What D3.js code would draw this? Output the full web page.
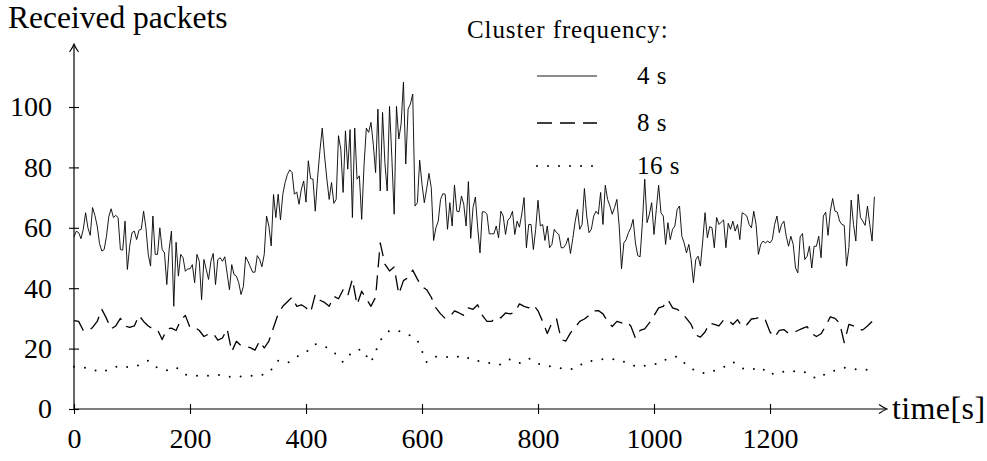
<!DOCTYPE html>
<html lang="en">
<head>
<meta charset="utf-8">
<title>Received packets</title>
<script src="https://cdn.jsdelivr.net/npm/d3@7"></script>
<style>
  body { margin: 0; background: #fff; }
  svg text { font-family: "Liberation Serif", "DejaVu Serif", serif; fill: #000; }
</style>
</head>
<body>
<div id="chart"></div>
<script>
// sampling interval of each series (s) and legend labels
var steps = [4, 8, 16];
var seriesNames = ["4 s", "8 s", "16 s"];
var xTicks = [0, 200, 400, 600, 800, 1000, 1200];
var yTicks = [0, 20, 40, 60, 80, 100];

// received packets, cluster frequency 4 s
var packets4 = [57,
  58.9,58.4,56.4,59.5,65,60,57.5,66.7,64.1,60.6,54.8,52.3,52.8,57.2,63.7,66.3,63.4,64.1,63.4,52.8,
  52.6,62.2,46.2,53.9,58.4,58.9,56.1,59.2,59.5,65.5,60,51.2,47.3,63.9,51.2,51.2,60,52.8,51.7,41.2,
  52.8,58.9,34,
  55.2,44,51.2,50.1,45.6,46.4,46.4,47.8,41.8,51.2,48.9,36.2,49.5,46.2,42.9,48.9,51.5,41.2,49.5,50.1,
  48.9,50.4,44.9,39.5,47.8,44.5,44,41.8,37.9,40.6,50.4,48.9,47.1,45.3,45.3,50.8,49.5,47.1,51.2,63.9,
  60.6,54,71,
  63.4,71.1,62.6,71.1,75,77.7,79.2,78.3,71.1,71.9,67.8,72.8,75.5,68.5,82.2,76.3,76.1,65.5,76.6,85.5,
  93,83.8,76.1,69.4,75,68.1,69.4,90.5,86,71.7,92.1,79.4,92.5,63.4,93,76.1,77.2,62.8,80.5,93,
  91.6,94.9,87.7,78.3,99.3,72.2,98.2,81.6,72.2,100.2,83.3,64.5,100.2,89.4,94.4,108.2,81.1,99.3,101,104.3,
  67.2,68.3,82.4,74.4,68.3,72.8,78,73.3,55.8,60,62.2,69.4,71.3,71.1,59.5,68.3,60.6,74.2,65.5,65.3,
  70.5,67.8,60.6,75.3,56.5,66.7,70.2,
  60,51.7,65.3,65.3,64.5,58,58,58,60.6,56.7,65.5,63.9,57.8,62.5,63.4,65.5,57.8,62.2,60.2,64.5,
  70,53.4,61.1,61.1,52.8,59.5,69.1,60.6,61.1,55.8,60.6,53.4,54.5,59.5,58.4,57.8,53.4,53.4,54.5,56.7,
  51.5,56.5,62,
  66.1,59.5,61.1,73,63.9,58.4,59.5,63.9,65.5,64.5,71.7,61.1,74.1,69.4,67.2,64.5,66.7,69.4,60.6,
  46.4,55,56.1,58.4,60,62.8,55,50.8,50.4,61.7,76.1,61.7,64.5,68.3,57.8,66.1,74.1,65,63.9,54.5,
  61.7,56.1,59.5,60.6,
  66.1,67.2,57.2,55,51.7,54.5,49.5,41.8,49.5,50.6,47.3,55.6,65,56.7,
  60.4,60,53.4,63.4,61.1,61.9,62.6,53.4,61.5,59.5,62.2,58.9,61.1,56.1,65,64.5,63.9,61.1,60,65.5,
  61.1,51.2,54.5,55.6,55,55.6,55,56.1,61.1,
  63.9,58.4,61.1,62.2,57.2,53.9,57.2,54.5,46.7,45.1,57,58.1,49.5,50.6,53.9,46.7,53.9,53.9,57.2,50.1,
  63.9,65.2,57.5,65.5,69.7,65.5,65.2,62.2,61.1,60.8,47.3,53.4,69.2,61.1,55.6,71.1,63.4,62.2,60.8,67.2,
  61.1,55.6,70.3];

// received packets, cluster frequency 8 s
var packets8 = [
  29.3,29,26,25.8,27,29,33,30,26.5,27.5,
  30,27.5,27,27.5,31,29,27.5,26.5,26.2,23,
  26.5,26.8,26,29.5,31,27,27,26,24,24.8,
  25,22.8,23.5,26.5,19,22.4,21,20.7,20.3,19.5,
  22.5,20.2,22.5,27,31.5,34,35.5,37,34,34.5,
  33.5,32,38,36,35.3,34,37.3,36.5,39.5,37.5,
  43,34.5,39,36.5,34,37,55,48,45.7,47,
  38,42.5,43.5,46,43,40.5,39.5,37,33.5,31.5,
  30,30.5,32.5,31.8,31,33.5,33,34.5,31,29,
  29,30.5,30.2,31.8,31.5,32,34.8,34,33.5,34.5,
  32.5,29,25,28.5,29.8,23,22.5,25.2,27,29,
  29.8,31,32.5,32.6,31.5,29,27.3,29,28.5,29,
  27.5,23.5,26,26.5,28.5,30.9,33.5,34,36.2,33.5,
  33,31.8,30,28,24.5,23.8,25.5,28.5,28,27.5,
  29.5,29.5,28,29.6,27.3,27.9,29.8,30,30.5,29.5,
  25.5,23.8,26,26.3,25,25.2,26,26.7,27.3,25,
  24,24.9,27.5,30.5,30,28.5,22,28,27.5,26.3,
  26.2,27.5,29];

// received packets, cluster frequency 16 s
var packets16 = [
  14,13.8,13,12.2,13.5,14.3,13.8,14.5,16,13.6,
  12.8,13.8,11.4,11,11,11.1,11.3,10.5,10.8,11,
  11,12,16,15.2,17.3,18.8,21.5,20.8,18.8,15.5,
  19,19.8,15.4,22.7,26,25.8,24.7,22.8,15.5,17.3,
  17.3,17,17.7,16,15.8,15,14.7,16.5,15.2,16.8,
  15,14.3,13.8,13.2,13.3,15.4,16.1,16.5,16.5,16,
  14.5,13.9,14.8,15,16.8,17.4,14.6,12.5,11.8,12.7,
  13.9,15.6,13.5,13,13.8,11.3,12.5,12.1,12.7,12,
  10,11.6,12.8,13.7,13.2,13,13];

var width = 987, height = 461;

var x = d3.scaleLinear().domain([0, 1200]).range([74, 770]);
var y = d3.scaleLinear().domain([0, 100]).range([409, 107]);

var svg = d3.select("#chart")
  .append("svg")
    .attr("width", width)
    .attr("height", height);

// arrow heads for the axes
svg.append("defs").append("marker")
    .attr("id", "arrow")
    .attr("viewBox", "-10 -6 12 12")
    .attr("refX", 0)
    .attr("refY", 0)
    .attr("markerWidth", 12)
    .attr("markerHeight", 12)
    .attr("markerUnits", "userSpaceOnUse")
    .attr("orient", "auto")
  .append("path")
    .attr("d", "M-7,-4.5 Q-2,-1 1,0 Q-2,1 -7,4.5")
    .attr("fill", "none")
    .attr("stroke", "#000")
    .attr("stroke-width", 1.1);

// axes
var xAxis = svg.append("g")
  .attr("transform", "translate(0," + y(0) + ")")
  .call(d3.axisBottom(x).tickValues(xTicks).tickFormat(d3.format("d")).tickSize(0).tickPadding(19));
var yAxis = svg.append("g")
  .attr("transform", "translate(" + x(0) + ",0)")
  .call(d3.axisLeft(y).tickValues(yTicks).tickFormat(d3.format("d")).tickSize(0).tickPadding(22));

svg.selectAll(".domain").remove();
xAxis.selectAll(".tick line").attr("y1", -5).attr("y2", 5).attr("stroke", "#000").attr("stroke-width", 1.1);
yAxis.selectAll(".tick line").attr("x1", -5).attr("x2", 5).attr("stroke", "#000").attr("stroke-width", 1.1);
svg.selectAll(".tick text")
  .attr("font-family", "Liberation Serif")
  .attr("font-size", 28)
  .attr("fill", "#000");

svg.append("line")
  .attr("x1", x(0)).attr("x2", 886)
  .attr("y1", y(0)).attr("y2", y(0))
  .attr("stroke", "#000").attr("stroke-width", 1.2)
  .attr("marker-end", "url(#arrow)");
svg.append("line")
  .attr("x1", x(0)).attr("x2", x(0))
  .attr("y1", y(0)).attr("y2", 45)
  .attr("stroke", "#000").attr("stroke-width", 1.2)
  .attr("marker-end", "url(#arrow)");

// axis labels
svg.append("text")
  .attr("x", 8).attr("y", 28)
  .attr("font-size", 31.5)
  .text("Received packets");
svg.append("text")
  .attr("x", 892).attr("y", 419)
  .attr("font-size", 32)
  .attr("letter-spacing", 0.4)
  .text("time[s]");

// series
var dashes = [null, "15,8", "0,11"];
var widths = [0.9, 1.3, 2];
var line = d3.line()
  .x(function(d) { return x(d.t); })
  .y(function(d) { return y(d.v); });

var series = [packets4, packets8, packets16].map(function(vals, i) {
  return vals.map(function(v, j) { return {t: j * steps[i], v: v}; });
});

svg.selectAll(".series")
  .data(series)
  .enter()
  .append("path")
    .attr("class", "series")
    .attr("d", line)
    .attr("fill", "none")
    .attr("stroke", "#000")
    .attr("stroke-width", function(d, i) { return widths[i]; })
    .attr("stroke-dasharray", function(d, i) { return dashes[i]; })
    .attr("stroke-linecap", function(d, i) { return i == 2 ? "round" : "butt"; })
    .attr("stroke-linejoin", "round");

// legend
svg.append("text")
  .attr("x", 467).attr("y", 38)
  .attr("font-size", 25)
  .attr("letter-spacing", 0.9)
  .text("Cluster frequency:");

var legendY = [76, 123, 166];
var legend = svg.selectAll(".legend")
  .data(seriesNames)
  .enter()
  .append("g")
    .attr("class", "legend")
    .attr("transform", function(d, i) { return "translate(0," + legendY[i] + ")"; });
legend.append("line")
  .attr("x1", 537).attr("x2", 597)
  .attr("stroke", "#000")
  .attr("stroke-width", function(d, i) { return widths[i]; })
  .attr("stroke-dasharray", function(d, i) { return dashes[i]; })
  .attr("stroke-linecap", function(d, i) { return i == 2 ? "round" : "butt"; });
legend.append("text")
  .attr("x", 637).attr("y", 8)
  .attr("font-size", 25)
  .attr("letter-spacing", 0.5)
  .text(function(d) { return d; });
</script>
</body>
</html>
